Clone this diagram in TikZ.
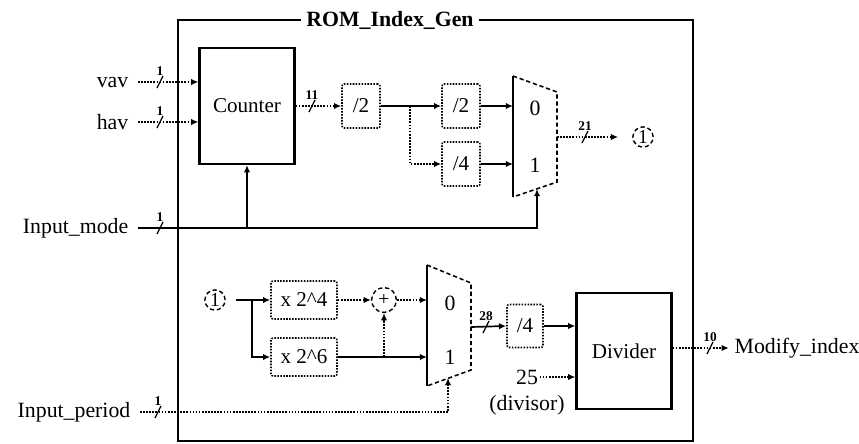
\documentclass[tikz,border=0pt]{standalone}
\usepackage{fontspec}
\setmainfont{Liberation Serif}
\usetikzlibrary{arrows.meta,calc}
\tikzset{
  >={Latex[length=1.8mm,width=1.6mm]},
  txt/.style={font=\fontsize{15.5}{17}\selectfont,inner sep=1pt},
  unit/.style={draw,line width=1.6pt,minimum width=2.375cm,minimum height=2.9cm,font=\fontsize{15}{17}\selectfont},
  op/.style={draw,line width=1.1pt,densely dotted,rounded corners=1.5pt,minimum width=0.95cm,minimum height=1.1cm,
    font=\fontsize{15}{17}\selectfont},
  wide op/.style={op,minimum width=1.65cm,minimum height=0.95cm},
  ref/.style={circle,draw,line width=1pt,densely dashed,inner sep=1pt,minimum size=0.5cm,font=\fontsize{14}{16}\selectfont},
  wire/.style={line width=1.2pt,->},
  dwire/.style={line width=1.2pt,densely dotted,->},
  pics/bus/.style={code={
    \draw[line width=0.9pt] (-3,6) -- (3,-6);
    \node[font=\fontsize{9.5}{10}\selectfont\bfseries,inner sep=0pt,above] at (0,-6) {#1};
  }},
}
\begin{document}
\begin{tikzpicture}[x=0.025cm,y=-0.025cm]
  \useasboundingbox (0,0) rectangle (859,443);
  % frame
  \draw[line width=2pt] (178,20) rectangle (693,441);
  \node[fill=white,font=\fontsize{15.5}{17}\selectfont\bfseries,inner xsep=4pt] (title) at (390,20) {ROM\_Index\_Gen};

  % inputs
  \node[txt,anchor=east] (vav) at (130,82) {vav};
  \node[txt,anchor=east] (hav) at (130,122) {hav};
  \node[txt,anchor=east] (imode) at (130,228) {Input\_mode};
  \node[txt,anchor=east] (iper) at (132,412) {Input\_period};

  % upper path
  \node[unit] (cnt) at (247,106) {Counter};
  \node[op] (half1) at (361,106) {/2};
  \node[op] (half2) at (461,106) {/2};
  \node[op] (quart1) at (461,164) {/4};
  \coordinate (m1a) at (513,76);
  \coordinate (m1b) at (557,92);
  \coordinate (m1c) at (557,182);
  \coordinate (m1d) at (513,197);
  \draw[line width=1.6pt] (m1a) -- (m1d);
  \draw[line width=1.1pt,densely dashed] (m1a) -- (m1b) -- (m1c) -- (m1d);
  \node[txt] (m1zero) at (535,108) {0};
  \node[txt] (m1one) at (535,165) {1};
  \coordinate (m1in0) at (513,106);
  \coordinate (m1in1) at (513,164);
  \coordinate (m1out) at (557,137);
  \coordinate (m1sel) at (537,189);
  \node[ref] (ret1) at (643,137) {1};

  \draw[dwire] (vav.east) ++(8,0) -- (vav.east -| cnt.west);
  \draw[dwire] (hav.east) ++(8,0) -- (hav.east -| cnt.west);
  \foreach \y in {82,122,228} \pic at (160,\y) {bus=1};
  \draw[dwire] (cnt.east) -- (half1.west);
  \pic at (312,106) {bus=11};
  \draw[wire] (half1.east) -- (half2.west);
  \coordinate (fork1) at (410,106);
  \draw[dwire] (fork1) |- (quart1.west);
  \draw[wire] (half2.east) -- (m1in0);
  \draw[wire] (quart1.east) -- (m1in1);
  \draw[dwire,shorten >=3.5mm] (m1out) -- (ret1.west);
  \pic at (585,137) {bus=21};
  \coordinate (mode1) at (537,228);
  \coordinate (mode2) at (247,228);
  \draw[wire] (imode.east) ++(8,0) -- (mode1) -- (m1sel);
  \draw[wire] (mode2) -- (cnt.south);

  % lower path
  \node[ref] (ret2) at (215,300) {1};
  \node[wide op] (mul4) at (304,300) {x 2\textasciicircum 4};
  \node[wide op] (mul6) at (304,357) {x 2\textasciicircum 6};
  \node[circle,draw,line width=1pt,densely dashed,minimum size=0.62cm,inner sep=0pt,font=\fontsize{14}{16}\selectfont] (sum) at (384,300) {+};
  \coordinate (m2a) at (427,265);
  \coordinate (m2b) at (471,283);
  \coordinate (m2c) at (471,370);
  \coordinate (m2d) at (427,386);
  \draw[line width=1.6pt] (m2a) -- (m2d);
  \draw[line width=1.1pt,densely dashed] (m2a) -- (m2b) -- (m2c) -- (m2d);
  \node[txt] (m2zero) at (450,303) {0};
  \node[txt] (m2one) at (450,357) {1};
  \coordinate (m2in0) at (427,300);
  \coordinate (m2in1) at (427,357);
  \coordinate (m2out) at (471,327);
  \coordinate (m2sel) at (448,378);
  \node[op,minimum width=0.9cm,minimum height=1.075cm] (quart2) at (525,326) {/4};
  \node[unit] (divd) at (624,351) {Divider};
  \node[txt] (divisor) at (527,377) {25};
  \node[txt] (divnote) at (527,405) {(divisor)};
  \node[txt,anchor=west] (midx) at (733,348) {Modify\_index};

  \coordinate (fork2) at (252,300);
  \draw[wire,shorten <=2.5mm] (ret2.east) -- (mul4.west);
  \draw[wire] (fork2) |- (mul6.west);
  \draw[dwire] (mul4.east) -- (sum.west);
  \draw[dwire] (sum.east) -- (m2in0);
  \draw[wire] (mul6.east) -- (m2in1);
  \coordinate (fork3) at (384,357);
  \draw[dwire] (fork3) -- (sum.south);
  \draw[wire] (m2out) -- (quart2.west);
  \pic at (486,327) {bus=28};
  \draw[wire] (quart2.east) -- (quart2.east -| divd.west);
  \draw[dwire] (divisor.east) -- (divisor.east -| divd.west);
  \draw[dwire] (divd.east |- midx.west) -- ([xshift=-3pt]midx.west);
  \pic at (710,348) {bus=10};
  \coordinate (per1) at (448,412);
  \draw[dwire] (iper.east) ++(8,0) -- (per1) -- (m2sel);
  \pic at (158,412) {bus=1};
\end{tikzpicture}
\end{document}
